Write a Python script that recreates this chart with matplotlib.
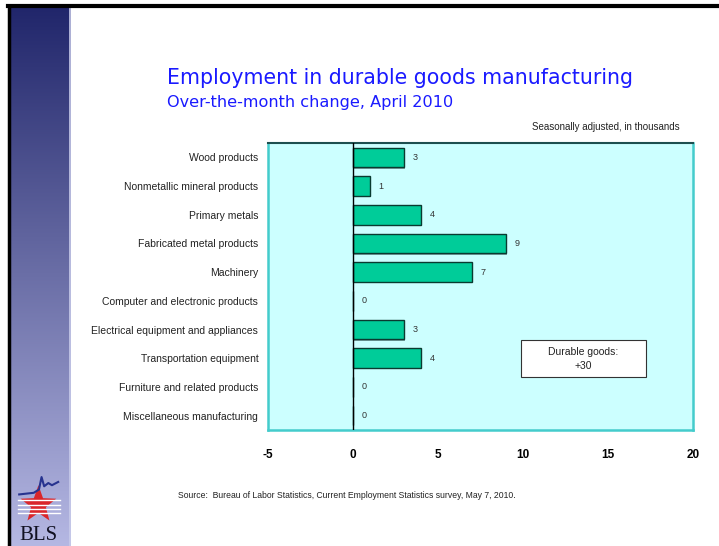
import numpy as np
import matplotlib
matplotlib.use('Agg')
import matplotlib.pyplot as plt
from matplotlib.patches import Rectangle, Polygon

plt.rcParams['font.family'] = ['Liberation Sans', 'DejaVu Sans']

# data
categories = [
    'Wood products',
    'Nonmetallic mineral products',
    'Primary metals',
    'Fabricated metal products',
    'Machinery',
    'Computer and electronic products',
    'Electrical equipment and appliances',
    'Transportation equipment',
    'Furniture and related products',
    'Miscellaneous manufacturing',
]
changes = [3, 1, 4, 9, 7, 0, 3, 4, 0, 0]
x_ticks = [-5, 0, 5, 10, 15, 20]
total_label = 'Durable goods:\n+30'

fig = plt.figure(figsize=(7.19, 5.46), dpi=100)
W, H = 719, 546


def fx(px):
    return px / W


def fy(py):
    return 1 - py / H


# left blue gradient band
band = fig.add_axes([fx(10), 0, fx(61), fy(8)])
grad = np.linspace(0, 1, 256).reshape(-1, 1)
top = np.array([0.13, 0.15, 0.42])
bot = np.array([0.71, 0.72, 0.89])
img = top + (bot - top) * grad[..., None]
band.imshow(img, aspect='auto', extent=[0, 1, 0, 1])
band.axvline(0.985, color='#c8cbea', lw=1.2)
band.axis('off')

# black frame lines (top and left)
fig.add_artist(plt.Line2D([fx(8), 1], [fy(6), fy(6)], color='black', lw=3,
                          transform=fig.transFigure))
fig.add_artist(plt.Line2D([fx(9), fx(9)], [0, fy(6)], color='black', lw=2.5,
                          transform=fig.transFigure))

# BLS logo (rough)
logo = fig.add_axes([fx(14), fy(546), fx(52), fy(470)])
logo.set_xlim(0, 1)
logo.set_ylim(0, 1.4)
logo.axis('off')
ang = np.deg2rad(90 + np.arange(10) * 36)
rad = np.where(np.arange(10) % 2 == 0, 0.36, 0.15)
star = np.column_stack([0.47 + rad * np.cos(ang), 0.76 + rad * np.sin(ang) * 1.0])
poly = Polygon(star, closed=True, facecolor='#d9262b', edgecolor='none')
logo.add_patch(poly)
for yy in [0.60, 0.68, 0.76, 0.84]:
    logo.plot([0.08, 0.88], [yy, yy], color='white', lw=1.0)
logo.plot([0.1, 0.38, 0.48, 0.53, 0.58, 0.66, 0.73, 0.85],
          [0.95, 0.98, 1.04, 1.27, 1.1, 1.16, 1.12, 1.18], color='#27338f', lw=1.5)
logo.text(0.47, 0.02, 'BLS', ha='center', va='bottom', fontsize=15,
          family=['Liberation Serif', 'DejaVu Serif'], color='#111122')

# titles
fig.text(fx(167), fy(78), 'Employment in durable goods manufacturing',
         fontsize=14.8, color='#1a1aff', va='center', ha='left',
         family='DejaVu Sans')
fig.text(fx(167), fy(103), 'Over-the-month change, April 2010',
         fontsize=11.6, color='#1a1aff', va='center', ha='left',
         family='DejaVu Sans')
fig.text(fx(680), fy(127), 'Seasonally adjusted, in thousands',
         fontsize=7, color='#222222', va='center', ha='right')
fig.text(fx(178), fy(496), 'Source:  Bureau of Labor Statistics, Current Employment Statistics survey, May 7, 2010.',
         fontsize=6.2, color='#222222', va='center', ha='left')

# main chart
ax = fig.add_axes([fx(268), fy(430), fx(693 - 268), fy(143) - fy(430)])
ax.set_facecolor('#ccffff')
y = np.arange(len(categories))
ax.barh(y + 0.05, changes, height=0.68, left=0.08, color='#7aa0a0',
        edgecolor='none', zorder=2)
ax.barh(y, changes, height=0.68, color='#00cc99', edgecolor='#0a3a30',
        linewidth=1, zorder=3)
for yi, v in zip(y, changes):
    ax.annotate(str(v), (v, yi), xytext=(6, 0), textcoords='offset points',
                ha='left', va='center', fontsize=6.5, color='#333333', zorder=4)
ax.axvline(0, color='black', lw=1, zorder=4)
ax.set_xlim(-5, 20)
ax.set_ylim(len(categories) - 0.5, -0.5)
ax.set_yticks(y)
ax.set_yticklabels(categories, fontsize=7.5, color='#222222')
ax.set_xticks(x_ticks)
ax.set_xticklabels([str(t) for t in x_ticks], fontsize=8.5, fontweight='bold')
ax.tick_params(axis='both', length=0)
ax.tick_params(axis='x', pad=14)
ax.tick_params(axis='y', pad=7)
for s in ['left', 'right', 'bottom']:
    ax.spines[s].set_color('#44cccc')
    ax.spines[s].set_linewidth(1.8)
ax.spines['top'].set_color('#1d4f4f')
ax.spines['top'].set_linewidth(1.5)

# total box
fig.add_artist(Rectangle((fx(521), fy(377)), fx(646 - 521), fy(340) - fy(377),
                         transform=fig.transFigure, facecolor='white',
                         edgecolor='#333333', lw=0.8, zorder=5))
fig.text(fx(583), fy(359), total_label, fontsize=7.5, ha='center', va='center',
         linespacing=1.6, zorder=6, color='#222222')

plt.savefig('out.png', dpi=100, facecolor='white')
